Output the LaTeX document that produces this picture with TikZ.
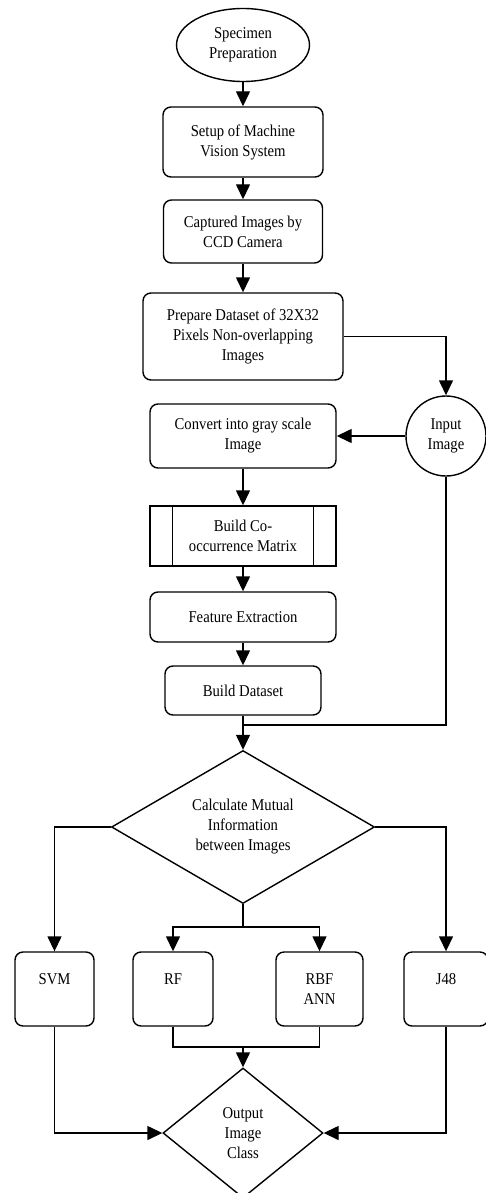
\documentclass[tikz,border=0pt]{standalone}
\usepackage{fontspec}
\setmainfont[FakeStretch=0.89]{Liberation Serif}
\usetikzlibrary{shapes.geometric,arrows.meta,calc}
\begin{document}
\begin{tikzpicture}[x=1pt,y=-1pt,
  every node/.style={font=\fontsize{16.5}{20}\selectfont, align=center, inner sep=0pt},
  ln/.style={line width=1.4pt},
  arr/.style={ln,-{Triangle[length=15pt,width=14pt]}},
  rbox/.style={draw, ln, rounded corners=8pt},
  shp/.style={draw, ln}]
\useasboundingbox (0,0) rectangle (486,1193);
\node[shp,ellipse,minimum width=133pt,minimum height=73pt] (e) at (243,45) {Specimen\\Preparation};
\node[rbox,minimum width=160pt,minimum height=70pt] (b1) at (243,142) {Setup of Machine\\Vision System};
\node[rbox,minimum width=159pt,minimum height=63pt] (b2) at (243,231.5) {Captured Images by\\CCD Camera};
\node[rbox,minimum width=200pt,minimum height=87pt] (b3) at (243,336.5) {Prepare Dataset of 32X32\\Pixels Non-overlapping\\Images};
\node[shp,circle,minimum size=80pt] (ii) at (446,436) {Input\\Image};
\node[rbox,minimum width=186pt,minimum height=64pt] (b4) at (243,436) {Convert into gray scale\\Image};
\node[shp,minimum width=186pt,minimum height=60pt] (b5) at (243,536) {Build Co-\\occurrence Matrix};
\draw[ln] ($(b5.north west)+(23,0)$) -- ($(b5.south west)+(23,0)$);
\draw[ln] ($(b5.north east)+(-23,0)$) -- ($(b5.south east)+(-23,0)$);
\node[rbox,minimum width=186pt,minimum height=50pt] (b6) at (243,617) {Feature Extraction};
\node[rbox,minimum width=156pt,minimum height=49pt] (b7) at (243,690.5) {Build Dataset};
\node[shp,diamond,aspect=1.72,minimum width=263pt,minimum height=153pt] (d1) at (243,827) {Calculate Mutual\\Information\\between Images};
\node[rbox,minimum width=79pt,minimum height=74pt] (svm) at (54.5,989) {SVM\\\mbox{}};
\node[rbox,minimum width=80pt,minimum height=74pt] (rf) at (173,989) {RF\\\mbox{}};
\node[rbox,minimum width=87pt,minimum height=74pt] (rbf) at (319.5,989) {RBF\\ANN};
\node[rbox,minimum width=84pt,minimum height=74pt] (j48) at (446,989) {J48\\\mbox{}};
\node[shp,diamond,aspect=1.23,minimum width=160pt,minimum height=130pt] (d2) at (243,1133) {Output\\Image\\Class};
\draw[arr] (e) -- (b1);
\draw[arr] (b1) -- (b2);
\draw[arr] (b2) -- (b3);
\draw[arr] (b3.east) -| (ii.north);
\draw[arr] (ii.west) -- (b4.east);
\draw[arr] (b4) -- (b5);
\draw[arr] (b5) -- (b6);
\draw[arr] (b6) -- (b7);
\coordinate (j) at (243,725);
\draw[ln] (ii.south) |- (j);
\draw[arr] (b7.south) -- (d1.north);
\draw[arr] (d1.west) -| (svm.north);
\draw[arr] (d1.east) -| (j48.north);
\coordinate (s) at (243,927);
\draw[ln] (d1.south) -- (s);
\draw[arr] (s) -| (rf.north);
\draw[arr] (s) -| (rbf.north);
\coordinate (m) at (243,1047);
\draw[ln] (rf.south) |- (m) -| (rbf.south);
\draw[arr] (m) -- (d2.north);
\draw[arr] (svm.south) |- (d2.west);
\draw[arr] (j48.south) |- (d2.east);
\end{tikzpicture}
\end{document}
